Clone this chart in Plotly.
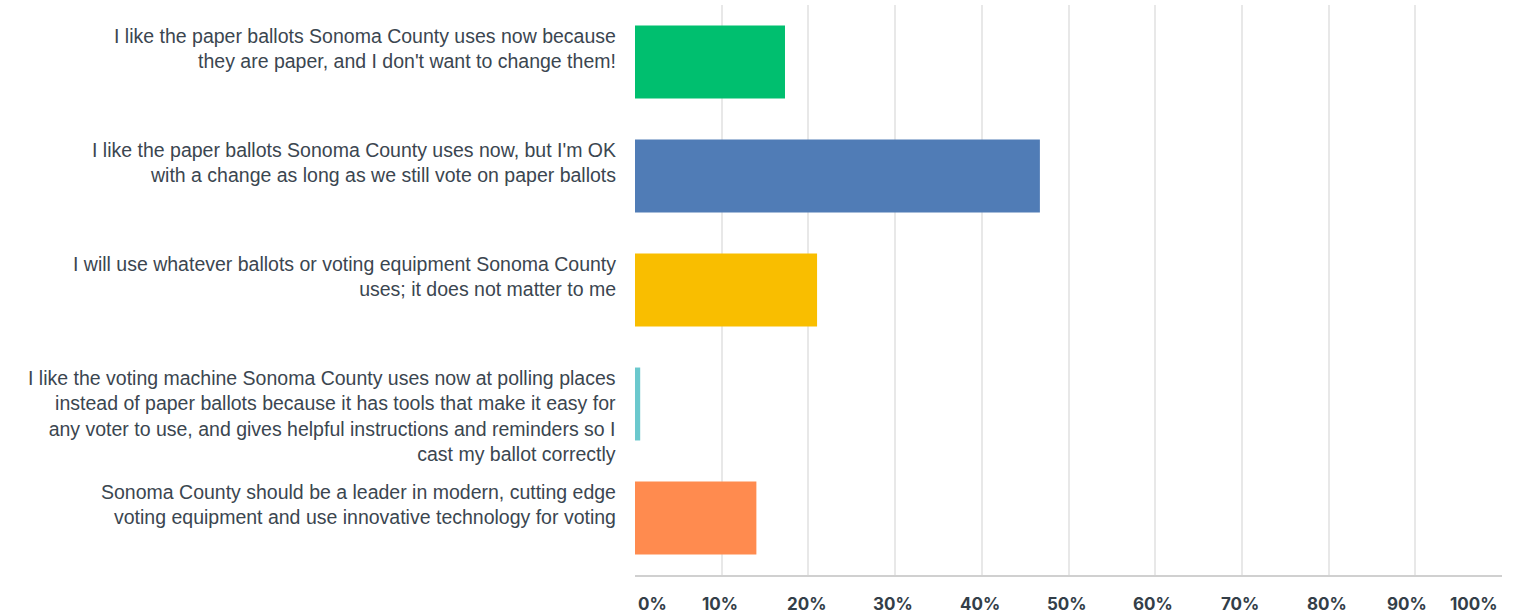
import plotly.graph_objects as go

categories = [
    "I like the paper ballots Sonoma County uses now because<br>they are paper, and I don't want to change them!",
    "I like the paper ballots Sonoma County uses now, but I'm OK<br>with a change as long as we still vote on paper ballots",
    "I will use whatever ballots or voting equipment Sonoma County<br>uses; it does not matter to me",
    "I like the voting machine Sonoma County uses now at polling places<br>instead of paper ballots because it has tools that make it easy for<br>any voter to use, and gives helpful instructions and reminders so I<br>cast my ballot correctly",
    "Sonoma County should be a leader in modern, cutting edge<br>voting equipment and use innovative technology for voting",
]
values = [17.3, 46.7, 21.0, 0.6, 14.0]
colors = ["#00BF6F", "#507CB6", "#F9BE00", "#6BC8CD", "#FF8B4F"]
tick_vals = [0, 10, 20, 30, 40, 50, 60, 70, 80, 90, 100]
tick_text = ["0%", "10%", "20%", "30%", "40%", "50%", "60%", "70%", "80%", "90%", "100%"]

W, H = 1514, 615
M_T, M_B = 5, 40
BAR_W = 0.64

fig = go.Figure(go.Bar(
    x=values, y=categories, orientation="h",
    marker=dict(color=colors, line=dict(width=0)),
    width=BAR_W,
))

# category labels, top-aligned with the top edge of each bar
band_px = (H - M_T - M_B) / len(categories)
for c in categories:
    fig.add_annotation(
        x=0, xref="paper", y=c, yref="y", xanchor="right", yanchor="top",
        xshift=-17, yshift=BAR_W / 2 * band_px + 2.5, showarrow=False,
        text=c, align="right",
        font=dict(family="Liberation Sans, Arial, sans-serif", size=19.5, color="#3b4650"),
    )

# x tick labels as annotations so the end labels stay inside the page
for v, t in zip(tick_vals, tick_text):
    if v == tick_vals[0]:
        anchor, shift = "left", 1
    elif v == tick_vals[-1]:
        anchor, shift = "right", -2
    elif v == tick_vals[-2]:
        anchor, shift = "center", -8
    else:
        anchor, shift = "center", -2
    fig.add_annotation(
        x=v, y=0, xref="x", yref="paper", yanchor="top", xanchor=anchor,
        xshift=shift, yshift=-17, showarrow=False, text=t,
        font=dict(family="Inter, Lato, sans-serif", size=17, color="#333e48", weight="bold"),
    )

fig.update_layout(
    width=W, height=H,
    margin=dict(l=635, r=12, t=M_T, b=M_B),
    paper_bgcolor="white", plot_bgcolor="white",
    showlegend=False,
    font=dict(family="Liberation Sans, Arial, sans-serif", color="#333e48"),
)
fig.update_xaxes(
    range=[0, 100], tickvals=tick_vals, showticklabels=False,
    showgrid=True, gridcolor="#e8e8e8", gridwidth=2,
    zeroline=False, showline=True, linecolor="#d0d0d0", linewidth=2,
    fixedrange=True,
)
fig.update_yaxes(
    autorange="reversed", showticklabels=False,
    showline=False, showgrid=False, fixedrange=True,
)

fig.write_html("out.html", config={"displayModeBar": False},
               post_script="document.body.style.margin='0';")
